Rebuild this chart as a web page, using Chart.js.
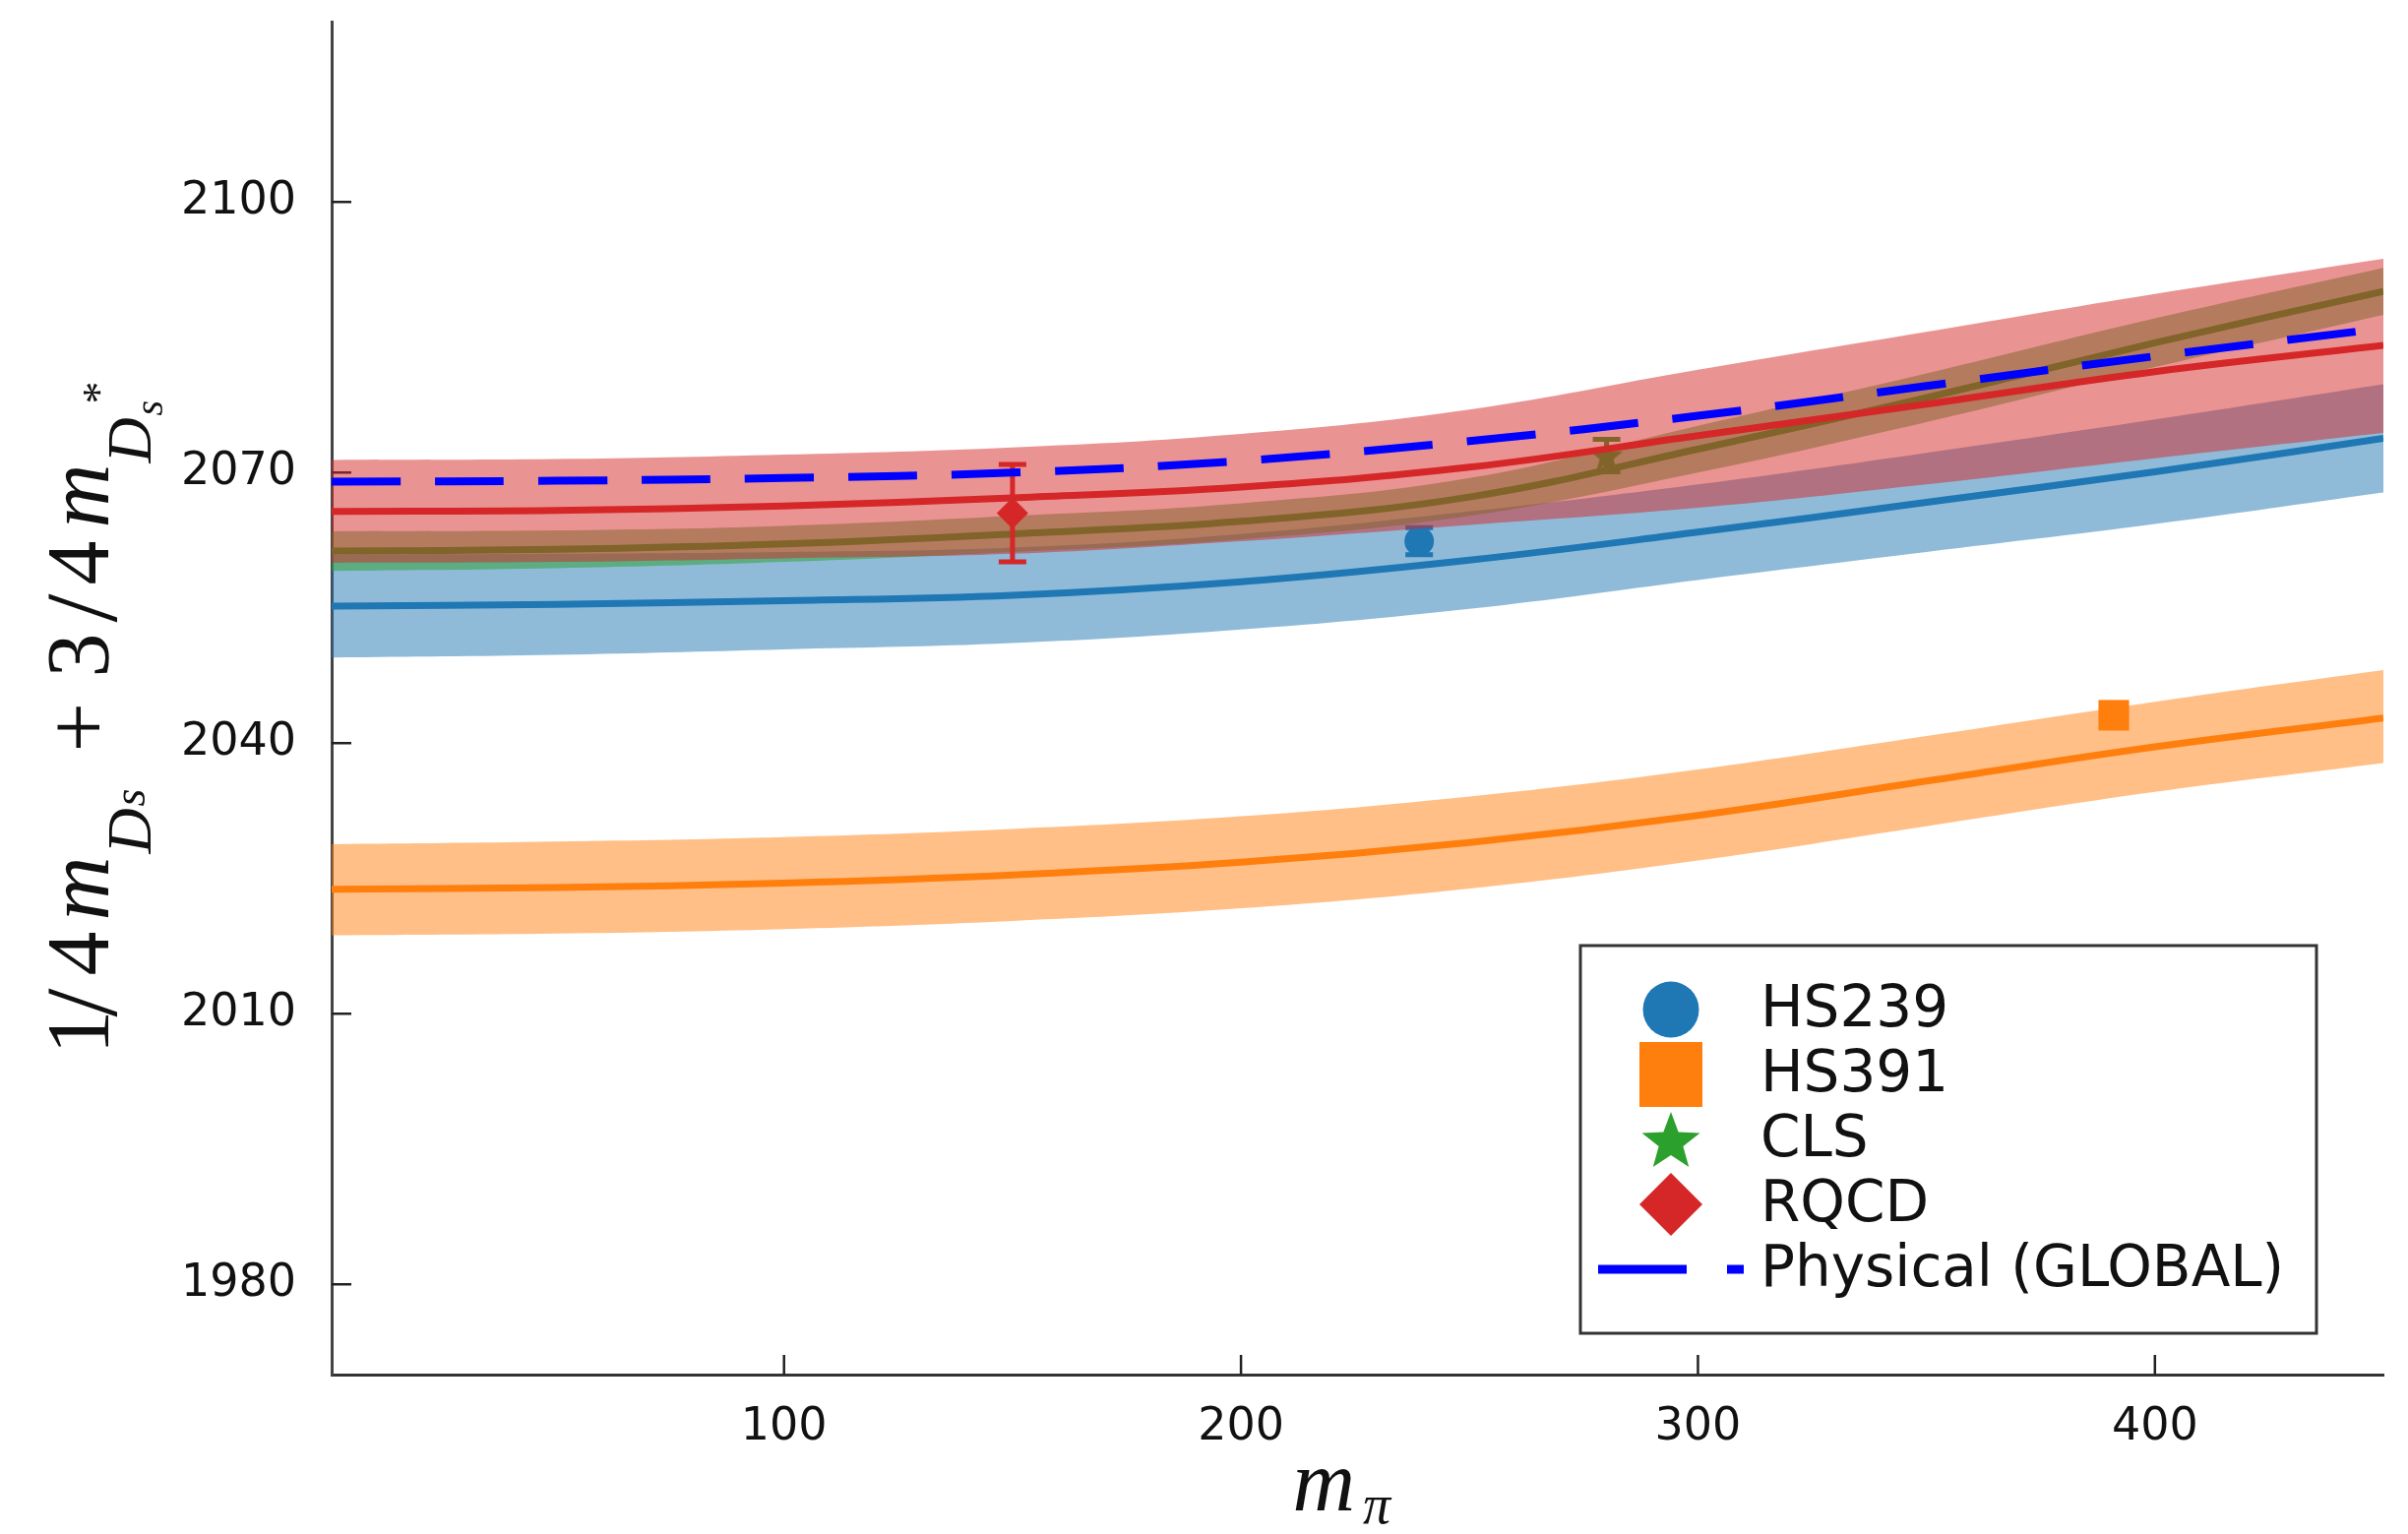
<!DOCTYPE html>
<html>
<head>
<meta charset="utf-8">
<script src="https://cdn.jsdelivr.net/npm/chart.js@4.4.1/dist/chart.umd.min.js"></script>
<style>
  html, body { margin: 0; padding: 0; background: #ffffff; }
  canvas { display: block; }
</style>
</head>
<body>
<canvas id="chart" width="2447" height="1559"></canvas>
<script>
// Pion masses (MeV) at which the chiral-fit bands are sampled
const mPi = [1, 50, 100, 150, 200, 250, 300, 350, 400, 450];

// HS239 fit: central curve and 1-sigma band
const hs239Center = [2055.2, 2055.4, 2055.8, 2056.4, 2057.9, 2060.3, 2063.4, 2066.7, 2070.1, 2073.8];
const hs239Lower  = [2049.5, 2049.8, 2050.4, 2051.1, 2052.6, 2054.9, 2058.1, 2061.2, 2064.3, 2067.8];
const hs239Upper  = [2060.9, 2061.0, 2061.2, 2061.7, 2063.2, 2065.7, 2068.7, 2072.2, 2075.9, 2079.8];

// HS391 fit
const hs391Center = [2023.8, 2024.0, 2024.5, 2025.4, 2026.8, 2029.0, 2032.0, 2035.8, 2039.6, 2042.8];
const hs391Lower  = [2018.7, 2018.9, 2019.4, 2020.3, 2021.7, 2023.9, 2027.0, 2030.8, 2034.6, 2037.8];
const hs391Upper  = [2028.8, 2029.1, 2029.6, 2030.5, 2031.9, 2034.1, 2037.1, 2040.8, 2044.6, 2048.1];

// CLS fit
const clsCenter = [2061.3, 2061.5, 2062.1, 2063.2, 2064.6, 2067.3, 2072.6, 2078.3, 2084.4, 2090.1];
const clsLower  = [2059.1, 2059.4, 2060.1, 2061.2, 2062.6, 2065.2, 2070.0, 2075.6, 2081.7, 2087.5];
const clsUpper  = [2063.5, 2063.6, 2064.1, 2065.2, 2066.6, 2069.4, 2075.2, 2081.0, 2087.1, 2092.7];

// RQCD fit
const rqcdCenter = [2065.7, 2065.8, 2066.3, 2067.2, 2068.4, 2070.6, 2074.1, 2077.6, 2081.2, 2084.1];
const rqcdLower  = [2060.0, 2060.1, 2060.5, 2061.0, 2062.4, 2064.2, 2066.1, 2068.7, 2071.6, 2074.4];
const rqcdUpper  = [2071.4, 2071.5, 2072.0, 2072.8, 2074.3, 2077.0, 2081.4, 2085.6, 2089.8, 2093.7];

// Physical curve from the global fit
const physicalCurve = [2069.0, 2069.1, 2069.4, 2070.0, 2071.3, 2073.5, 2076.3, 2079.6, 2082.9, 2086.0];

// Lattice data points
const pointLabels = ['HS239', 'HS391', 'CLS', 'RQCD'];
const pointMasses = [239, 391, 280, 150];
const pointValues = [2062.4, 2043.1, 2071.9, 2065.5];
const pointErrors = [1.5, 0.4, 1.8, 5.4];

// Axis ticks
const xTicks = [100, 200, 300, 400];
const yTicks = [1980, 2010, 2040, 2070, 2100];

const BLUE = '#1f77b4', ORANGE = '#ff7f0e', GREEN = '#2ca02c', RED = '#d62728', PHYS = '#0000ff';

function rgba(hex, a) {
  const n = parseInt(hex.slice(1), 16);
  return `rgba(${(n >> 16) & 255},${(n >> 8) & 255},${n & 255},${a})`;
}
const pts = ys => mPi.map((x, i) => ({ x, y: ys[i] }));

function starPath(g, cx, cy, R, r) {
  g.beginPath();
  for (let k = 0; k < 10; k++) {
    const rad = k % 2 === 0 ? R : r;
    const ang = -Math.PI / 2 + k * Math.PI / 5;
    const px = cx + rad * Math.cos(ang), py = cy + rad * Math.sin(ang);
    if (k === 0) g.moveTo(px, py); else g.lineTo(px, py);
  }
  g.closePath();
}
function starImage(R, color) {
  const s = Math.ceil(R * 2 + 4);
  const c = document.createElement('canvas');
  c.width = s; c.height = s;
  const g = c.getContext('2d');
  g.fillStyle = color;
  starPath(g, s / 2, s / 2 + R * 0.08, R, R * 0.42);
  g.fill();
  return c;
}

const CURVE = { tension: 0.4, cubicInterpolationMode: 'default' };

function bandSets(lower, upper, center, color, order) {
  return [
    { data: pts(lower), borderWidth: 0, pointRadius: 0, fill: false, order: order, ...CURVE },
    { data: pts(upper), borderWidth: 0, pointRadius: 0, fill: '-1', backgroundColor: rgba(color, 0.5),
      order: order, ...CURVE },
    { data: pts(center), borderColor: color, borderWidth: 7, pointRadius: 0, fill: false,
      order: order - 1, ...CURVE }
  ];
}

function pointSet(i, color, style, radius, order, legendShape) {
  return {
    label: pointLabels[i],
    data: [{ x: pointMasses[i], y: pointValues[i] }],
    errors: [pointErrors[i]],
    errorColor: color,
    showLine: false,
    pointStyle: style,
    pointRadius: radius,
    pointHoverRadius: radius,
    pointBackgroundColor: color,
    pointBorderWidth: 0,
    borderColor: color,
    order: order,
    legendShape: legendShape,
    legendColor: color
  };
}

const datasets = [
  ...bandSets(hs239Lower, hs239Upper, hs239Center, BLUE, 40),
  pointSet(0, BLUE, 'circle', 15, 38, 'circle'),
  ...bandSets(hs391Lower, hs391Upper, hs391Center, ORANGE, 37),
  pointSet(1, ORANGE, 'rect', 22, 35, 'square'),
  ...bandSets(clsLower, clsUpper, clsCenter, GREEN, 34),
  pointSet(2, GREEN, starImage(17.5, GREEN), 17, 32, 'star'),
  ...bandSets(rqcdLower, rqcdUpper, rqcdCenter, RED, 31),
  pointSet(3, RED, 'rectRot', 16, 29, 'diamond'),
  { label: 'Physical (GLOBAL)', data: pts(physicalCurve), borderColor: PHYS, borderWidth: 8,
    borderDash: [70, 35], pointRadius: 0, fill: false, order: 28, ...CURVE,
    legendShape: 'dash', legendColor: PHYS }
];

// Vertical error bars with caps, drawn just below each marker
const errorBars = {
  id: 'errorBars',
  beforeDatasetDraw(chart, args) {
    const ds = chart.data.datasets[args.index];
    if (!ds.errors) return;
    const { ctx, scales: { x, y } } = chart;
    ctx.save();
    ctx.strokeStyle = ds.errorColor;
    ctx.lineWidth = 5;
    ds.data.forEach((p, i) => {
      const e = ds.errors[i];
      const px = x.getPixelForValue(p.x);
      const top = y.getPixelForValue(p.y + e), bot = y.getPixelForValue(p.y - e);
      ctx.beginPath();
      ctx.moveTo(px, top); ctx.lineTo(px, bot);
      ctx.moveTo(px - 14, top); ctx.lineTo(px + 14, top);
      ctx.moveTo(px - 14, bot); ctx.lineTo(px + 14, bot);
      ctx.stroke();
    });
    ctx.restore();
  }
};

// Short tick marks pointing into the plot area
const innerTicks = {
  id: 'innerTicks',
  beforeDatasetsDraw(chart) {
    const { ctx, chartArea: a, scales: { x, y } } = chart;
    ctx.save();
    ctx.strokeStyle = '#222';
    ctx.lineWidth = 2.5;
    ctx.beginPath();
    x.ticks.forEach(t => {
      const px = x.getPixelForValue(t.value);
      ctx.moveTo(px, a.bottom); ctx.lineTo(px, a.bottom - 20);
    });
    y.ticks.forEach(t => {
      const py = y.getPixelForValue(t.value);
      ctx.moveTo(a.left, py); ctx.lineTo(a.left + 20, py);
    });
    ctx.stroke();
    ctx.restore();
  }
};

// Axis titles set as math-style text
const axisTitles = {
  id: 'axisTitles',
  afterDraw(chart) {
    const { ctx, chartArea: a } = chart;
    const serif = '"Liberation Serif", "DejaVu Serif", serif';
    ctx.save();
    ctx.fillStyle = '#111';
    ctx.textBaseline = 'alphabetic';
    ctx.textAlign = 'left';

    // x title: m_pi
    const cx = (a.left + a.right) / 2;
    const xBase = a.bottom + 138;
    ctx.font = `italic 88px ${serif}`;
    const mW = ctx.measureText('m').width;
    const x0 = cx - 66;
    ctx.fillText('m', x0, xBase);
    ctx.font = `italic 56px ${serif}`;
    ctx.fillText('\u03c0', x0 + mW + 8, xBase + 13);

    // y title: 1/4 m_{D_s} + 3/4 m_{D_s^*}
    const parts = [
      { t: '1', off: 2,   size: 90, it: false, dy: 0 },
      { t: '/', off: 40,  size: 104, it: false, dy: 8 },
      { t: '4', off: 82,  size: 90, it: false, dy: 0 },
      { t: 'm', off: 138, size: 90, it: true,  dy: 0 },
      { t: 'D', off: 206, size: 64, it: true,  dy: 43 },
      { t: 's', off: 254, size: 46, it: true,  dy: 37 },
      { t: '+', off: 309, size: 90, it: false, dy: 0 },
      { t: '3', off: 385, size: 90, it: false, dy: 0 },
      { t: '/', off: 441, size: 104, it: false, dy: 8 },
      { t: '4', off: 479, size: 90, it: false, dy: 0 },
      { t: 'm', off: 537, size: 90, it: true,  dy: 0 },
      { t: 'D', off: 603, size: 64, it: true,  dy: 43 },
      { t: '*', off: 663, size: 46, it: false, dy: 6 },
      { t: 's', off: 651, size: 40, it: true,  dy: 55 }
    ];
    const startY = (a.top + a.bottom) / 2 + 364;
    ctx.translate(110, startY);
    ctx.rotate(-Math.PI / 2);
    parts.forEach(p => {
      ctx.font = `${p.it ? 'italic ' : ''}${p.size}px ${serif}`;
      ctx.fillText(p.t, p.off, p.dy);
    });
    ctx.restore();
  }
};

// Boxed legend inside the plot, lower right
const boxLegend = {
  id: 'boxLegend',
  afterDraw(chart) {
    const { ctx, chartArea: a } = chart;
    const items = chart.data.datasets.filter(d => d.legendShape);
    const left = a.right - 816, top = a.top + 939, w = 748, h = 394;
    ctx.save();
    ctx.fillStyle = '#ffffff';
    ctx.fillRect(left, top, w, h);
    ctx.strokeStyle = '#333';
    ctx.lineWidth = 3;
    ctx.strokeRect(left, top, w, h);
    const mx = left + 92, tx = left + 183;
    items.forEach((d, i) => {
      const cy = top + 65 + i * 66;
      ctx.fillStyle = d.legendColor;
      ctx.strokeStyle = d.legendColor;
      ctx.beginPath();
      if (d.legendShape === 'circle') {
        ctx.arc(mx, cy, 28.5, 0, Math.PI * 2);
        ctx.fill();
      } else if (d.legendShape === 'square') {
        ctx.fillRect(mx - 32, cy - 33, 64, 66);
      } else if (d.legendShape === 'star') {
        starPath(ctx, mx, cy + 3, 31, 31 * 0.42);
        ctx.fill();
      } else if (d.legendShape === 'diamond') {
        ctx.moveTo(mx - 32, cy); ctx.lineTo(mx, cy - 32);
        ctx.lineTo(mx + 32, cy); ctx.lineTo(mx, cy + 32);
        ctx.closePath();
        ctx.fill();
      } else if (d.legendShape === 'dash') {
        ctx.lineWidth = 9;
        ctx.setLineDash([90, 41]);
        ctx.moveTo(left + 18, cy); ctx.lineTo(left + 166, cy);
        ctx.stroke();
        ctx.setLineDash([]);
      }
      ctx.fillStyle = '#111';
      ctx.font = '58px "DejaVu Sans"';
      ctx.textBaseline = 'middle';
      ctx.textAlign = 'left';
      ctx.fillText(d.label, tx, cy + 2);
    });
    ctx.restore();
  }
};

const tickFont = { family: '"DejaVu Sans"', size: 46 };

new Chart(document.getElementById('chart'), {
  type: 'line',
  data: { datasets },
  options: {
    responsive: false,
    animation: false,
    devicePixelRatio: 1,
    layout: { padding: { left: 0, right: 25, top: 19, bottom: 0 } },
    plugins: {
      legend: { display: false },
      tooltip: { enabled: false },
      filler: { propagate: false }
    },
    scales: {
      x: {
        type: 'linear',
        min: 1,
        max: 450,
        afterBuildTicks: s => { s.ticks = xTicks.map(v => ({ value: v })); },
        afterFit: s => { s.height = 162; s.paddingLeft = 0; s.paddingRight = 0; },
        grid: { display: false, drawTicks: false },
        border: { display: true, color: '#333', width: 3 },
        ticks: { font: tickFont, color: '#111', padding: 26, maxRotation: 0, autoSkip: false,
                 callback: v => String(v) }
      },
      y: {
        type: 'linear',
        min: 1970,
        max: 2120,
        afterBuildTicks: s => { s.ticks = yTicks.map(v => ({ value: v })); },
        afterFit: s => { s.width = 337; s.paddingTop = 0; s.paddingBottom = 0; },
        grid: { display: false, drawTicks: false },
        border: { display: true, color: '#444', width: 3 },
        ticks: { font: tickFont, color: '#111', padding: 36, autoSkip: false,
                 callback: v => String(v) }
      }
    }
  },
  plugins: [errorBars, innerTicks, axisTitles, boxLegend]
});
</script>
</body>
</html>
